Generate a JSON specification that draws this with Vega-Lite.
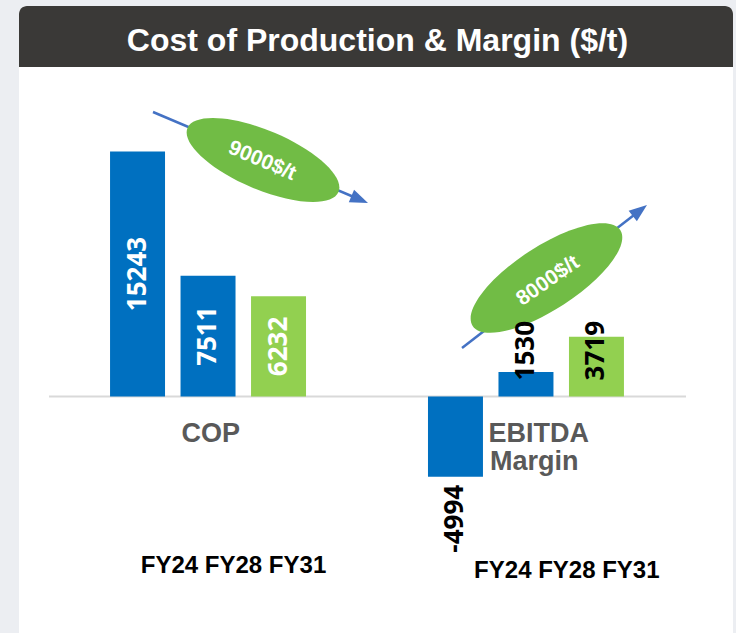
{
  "$schema": "https://vega.github.io/schema/vega-lite/v6.json",
  "width": 736,
  "height": 633,
  "autosize": {"type": "fit", "contains": "padding"},
  "padding": {"left": 19, "right": 3, "top": 6, "bottom": 0},
  "background": "#ECEEF2",
  "config": {"view": {"stroke": null}},
  "datasets": {
    "bars": [
      {"group": "COP", "year": "FY24", "value": 15243},
      {"group": "COP", "year": "FY28", "value": 7511},
      {"group": "COP", "year": "FY31", "value": 6232},
      {"group": "EBITDA Margin", "year": "FY24", "value": -4994},
      {"group": "EBITDA Margin", "year": "FY28", "value": 1530},
      {"group": "EBITDA Margin", "year": "FY31", "value": 3719}
    ]
  },
  "resolve": {"scale": {"x": "independent", "y": "independent", "xOffset": "independent", "color": "independent"}},
  "layer": [
    {
      "layer": [
        {
          "data": {"values": [{}]},
          "mark": {"type": "rect", "fill": "#FFFFFF", "cornerRadiusTopLeft": 8, "cornerRadiusTopRight": 8},
          "encoding": {
            "x": {"datum": -0.681, "type": "quantitative", "scale": {"domain": [-0.681, 9.447], "nice": false, "zero": false}, "axis": null},
            "x2": {"datum": 9.447},
            "y": {"datum": 24289, "type": "quantitative", "scale": {"domain": [-14710, 24289], "nice": false, "zero": false}, "axis": null},
            "y2": {"datum": -14710}
          }
        },
        {
          "data": {"values": [{}]},
          "mark": {"type": "rect", "fill": "#3A3937", "cornerRadiusTopLeft": 8, "cornerRadiusTopRight": 8},
          "encoding": {
            "x": {"datum": -0.681, "type": "quantitative"},
            "x2": {"datum": 9.447},
            "y": {"datum": 24289, "type": "quantitative"},
            "y2": {"datum": 20495}
          }
        },
        {
          "data": {"values": [{"t": "Cost of Production & Margin ($/t)"}]},
          "mark": {"type": "text", "font": "Liberation Sans", "fontWeight": "bold", "fontSize": 32, "color": "#FFFFFF", "align": "center", "baseline": "alphabetic"},
          "encoding": {
            "x": {"datum": 4.404, "type": "quantitative"},
            "y": {"datum": 21490, "type": "quantitative"},
            "text": {"field": "t"}
          }
        },
        {
          "data": {"values": [{}]},
          "mark": {"type": "rule", "stroke": "#D9D9D9", "strokeWidth": 2},
          "encoding": {
            "x": {"datum": -0.255, "type": "quantitative"},
            "x2": {"datum": 8.78},
            "y": {"datum": 0, "type": "quantitative"}
          }
        },
        {
          "data": {"values": [{"t": "COP"}]},
          "mark": {"type": "text", "font": "Liberation Sans", "fontWeight": "bold", "fontSize": 27, "color": "#595959", "align": "center", "baseline": "alphabetic"},
          "encoding": {
            "x": {"datum": 2.04, "type": "quantitative"},
            "y": {"datum": -2811, "type": "quantitative"},
            "text": {"field": "t"}
          }
        },
        {
          "data": {"values": [{"t": "EBITDA"}]},
          "mark": {"type": "text", "font": "Liberation Sans", "fontWeight": "bold", "fontSize": 27, "color": "#595959", "align": "left", "baseline": "alphabetic"},
          "encoding": {
            "x": {"datum": 5.98, "type": "quantitative"},
            "y": {"datum": -2830, "type": "quantitative"},
            "text": {"field": "t"}
          }
        },
        {
          "data": {"values": [{"t": "Margin"}]},
          "mark": {"type": "text", "font": "Liberation Sans", "fontWeight": "bold", "fontSize": 27, "color": "#595959", "align": "left", "baseline": "alphabetic"},
          "encoding": {
            "x": {"datum": 6.0, "type": "quantitative"},
            "y": {"datum": -4572, "type": "quantitative"},
            "text": {"field": "t"}
          }
        },
        {
          "data": {"values": [{"t": "FY24 FY28 FY31"}]},
          "mark": {"type": "text", "font": "Liberation Sans", "fontWeight": "bold", "fontSize": 24, "color": "#000000", "align": "center", "baseline": "alphabetic"},
          "encoding": {
            "x": {"datum": 2.362, "type": "quantitative"},
            "y": {"datum": -10997, "type": "quantitative"},
            "text": {"field": "t"}
          }
        },
        {
          "data": {"values": [{"t": "FY24 FY28 FY31"}]},
          "mark": {"type": "text", "font": "Liberation Sans", "fontWeight": "bold", "fontSize": 24, "color": "#000000", "align": "center", "baseline": "alphabetic"},
          "encoding": {
            "x": {"datum": 7.09, "type": "quantitative"},
            "y": {"datum": -11308, "type": "quantitative"},
            "text": {"field": "t"}
          }
        }
      ]
    },
    {
      "layer": [
        {
          "data": {"values": [{}]},
          "mark": {"type": "rule", "stroke": "#4472C4", "strokeWidth": 2.5},
          "encoding": {
            "x": {"datum": 1.22, "type": "quantitative", "scale": {"domain": [-0.681, 9.447], "nice": false, "zero": false}, "axis": null},
            "x2": {"datum": 4.152},
            "y": {"datum": 17696, "type": "quantitative", "scale": {"domain": [-14710, 24289], "nice": false, "zero": false}, "axis": null},
            "y2": {"datum": 12253}
          }
        },
        {
          "data": {"values": [{}]},
          "mark": {"type": "point", "shape": "M 1 0 L -1 -0.75 L -1 0.75 Z", "filled": true, "fill": "#4472C4", "opacity": 1, "strokeWidth": 0, "size": 324, "angle": 23},
          "encoding": {
            "x": {"datum": 4.152, "type": "quantitative"},
            "y": {"datum": 12253, "type": "quantitative"}
          }
        },
        {
          "data": {"values": [{}]},
          "mark": {"type": "rule", "stroke": "#4472C4", "strokeWidth": 2.5},
          "encoding": {
            "x": {"datum": 5.603, "type": "quantitative"},
            "x2": {"datum": 8.126},
            "y": {"datum": 3017, "type": "quantitative"},
            "y2": {"datum": 11569}
          }
        },
        {
          "data": {"values": [{}]},
          "mark": {"type": "point", "shape": "M 1 0 L -1 -0.75 L -1 0.75 Z", "filled": true, "fill": "#4472C4", "opacity": 1, "strokeWidth": 0, "size": 324, "angle": 322.3},
          "encoding": {
            "x": {"datum": 8.126, "type": "quantitative"},
            "y": {"datum": 11569, "type": "quantitative"}
          }
        },
        {
          "data": {"values": [{}]},
          "mark": {"type": "point", "shape": "M -1 0 C -1 -0.1988 -0.5523 -0.36 0 -0.36 C 0.5523 -0.36 1 -0.1988 1 0 C 1 0.1988 0.5523 0.36 0 0.36 C -0.5523 0.36 -1 0.1988 -1 0 Z", "filled": true, "fill": "#71BC45", "opacity": 1, "strokeWidth": 0, "size": 26896, "angle": 23},
          "encoding": {
            "x": {"datum": 2.78, "type": "quantitative"},
            "y": {"datum": 14710, "type": "quantitative"}
          }
        },
        {
          "data": {"values": [{}]},
          "mark": {"type": "point", "shape": "M -1 0 C -1 -0.1988 -0.5523 -0.36 0 -0.36 C 0.5523 -0.36 1 -0.1988 1 0 C 1 0.1988 0.5523 0.36 0 0.36 C -0.5523 0.36 -1 0.1988 -1 0 Z", "filled": true, "fill": "#71BC45", "opacity": 1, "strokeWidth": 0, "size": 30976, "angle": 327},
          "encoding": {
            "x": {"datum": 6.801, "type": "quantitative"},
            "y": {"datum": 7371, "type": "quantitative"}
          }
        },
        {
          "data": {"values": [{"t": "9000$/t"}]},
          "mark": {"type": "text", "angle": 23, "align": "center", "baseline": "middle", "font": "Liberation Sans", "fontWeight": "bold", "fontSize": 21, "color": "#FFFFFF"},
          "encoding": {
            "x": {"datum": 2.766, "type": "quantitative"},
            "y": {"datum": 14648, "type": "quantitative"},
            "text": {"field": "t"}
          }
        },
        {
          "data": {"values": [{"t": "8000$/t"}]},
          "mark": {"type": "text", "angle": 325, "align": "center", "baseline": "middle", "font": "Liberation Sans", "fontWeight": "bold", "fontSize": 21, "color": "#FFFFFF"},
          "encoding": {
            "x": {"datum": 6.823, "type": "quantitative"},
            "y": {"datum": 7184, "type": "quantitative"},
            "text": {"field": "t"}
          }
        }
      ]
    },
    {
      "data": {"name": "bars"},
      "layer": [
        {
          "mark": {"type": "bar"},
          "encoding": {
            "x": {"field": "group", "type": "nominal", "scale": {"domain": ["COP", "EBITDA Margin"], "range": [30, 666], "paddingInner": 0.3836, "paddingOuter": 0.192}, "axis": null},
            "xOffset": {"field": "year", "type": "nominal", "scale": {"type": "band", "domain": ["FY24", "FY28", "FY31"], "paddingInner": 0.22, "paddingOuter": 0}},
            "y": {"field": "value", "type": "quantitative", "scale": {"domain": [-14710, 24289], "nice": false, "zero": false}, "axis": null},
            "color": {"field": "year", "type": "nominal", "scale": {"domain": ["FY24", "FY28", "FY31"], "range": ["#0070C0", "#0070C0", "#92D050"]}, "legend": null}
          }
        },
        {
          "transform": [{"filter": "datum.group === 'EBITDA Margin' && datum.value > 0"}],
          "mark": {"type": "text", "angle": 270, "align": "left", "baseline": "middle", "font": "Open Sans", "fontWeight": "bold", "fontSize": 26, "color": "#000000"},
          "encoding": {
            "x": {"field": "group", "type": "nominal"},
            "xOffset": {"field": "year", "type": "nominal"},
            "y": {"datum": 1000, "type": "quantitative"},
            "text": {"field": "value", "type": "nominal"}
          }
        },
        {
          "transform": [{"filter": "datum.value < 0"}],
          "mark": {"type": "text", "angle": 270, "align": "right", "baseline": "middle", "dx": -8, "font": "Open Sans", "fontWeight": "bold", "fontSize": 26, "color": "#000000"},
          "encoding": {
            "x": {"field": "group", "type": "nominal"},
            "xOffset": {"field": "year", "type": "nominal"},
            "y": {"field": "value", "type": "quantitative"},
            "text": {"field": "value", "type": "nominal"}
          }
        }
      ]
    },
    {
      "data": {"name": "bars"},
      "transform": [{"filter": "datum.group === 'COP'"}],
      "mark": {"type": "text", "angle": 270, "align": "center", "baseline": "middle", "font": "Open Sans", "fontWeight": "bold", "fontSize": 26, "color": "#FFFFFF"},
      "encoding": {
        "x": {"field": "group", "type": "nominal", "scale": {"type": "band", "domain": ["COP", "EBITDA Margin"], "range": [30, 666], "paddingInner": 0.3836, "paddingOuter": 0.192}, "axis": null},
        "xOffset": {"field": "year", "type": "nominal", "scale": {"type": "band", "domain": ["FY24", "FY28", "FY31"], "paddingInner": 0.22, "paddingOuter": 0}},
        "y": {"field": "value", "type": "quantitative", "scale": {"domain": [-29420, 48578], "nice": false, "zero": false}, "axis": null},
        "text": {"field": "value", "type": "nominal"}
      }
    }
  ]
}
